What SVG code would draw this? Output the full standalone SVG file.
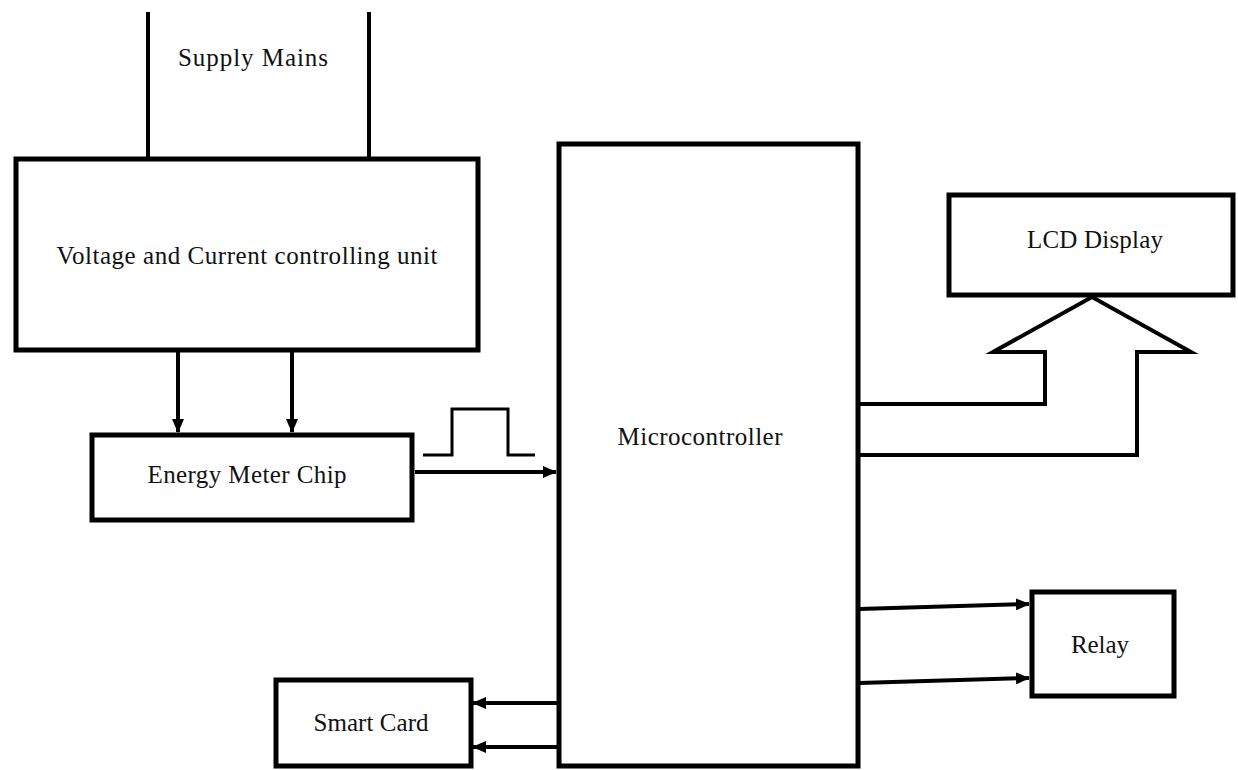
<svg xmlns="http://www.w3.org/2000/svg" width="1238" height="770" viewBox="0 0 1238 770">
<style>
.box{fill:#fff;stroke:#000;stroke-width:5}
.ln{fill:none;stroke:#000;stroke-width:4}
.thin{fill:none;stroke:#000;stroke-width:3}
.t{font-family:"Liberation Serif","Times New Roman",serif;font-size:25px;fill:#111;text-anchor:middle}
</style>
<defs>
<marker id="ah" markerWidth="14" markerHeight="12" refX="13" refY="6" orient="auto" markerUnits="userSpaceOnUse">
<path d="M0,0 L14,6 L0,12 Z" fill="#000"/>
</marker>
</defs>
<rect width="1238" height="770" fill="#fff"/>
<g id="connectors">
<line class="ln" x1="148" y1="12" x2="148" y2="157"/>
<line class="ln" x1="369" y1="12" x2="369" y2="157"/>
<line class="ln" x1="178" y1="352" x2="178" y2="432" marker-end="url(#ah)"/>
<line class="ln" x1="292" y1="352" x2="292" y2="432" marker-end="url(#ah)"/>
<polyline class="thin" points="423,455 452,455 452,409 508,409 508,455 535,455"/>
<line class="ln" x1="415" y1="472" x2="556" y2="472" marker-end="url(#ah)"/>
<path class="ln" d="M859,404 L1045,404 L1045,352 L993,352 L1092,297 L1191,352 L1137,352 L1137,455 L859,455" stroke-linejoin="miter"/>
<line class="ln" x1="859" y1="609" x2="1029" y2="604" marker-end="url(#ah)"/>
<line class="ln" x1="859" y1="683" x2="1029" y2="678" marker-end="url(#ah)"/>
<line class="ln" x1="557" y1="703" x2="473" y2="703" marker-end="url(#ah)"/>
<line class="ln" x1="557" y1="747" x2="473" y2="747" marker-end="url(#ah)"/>
</g>
<g id="supply-mains">
<text class="t" x="253" y="66" textLength="150" lengthAdjust="spacing">Supply Mains</text>
</g>
<g id="vc-unit">
<rect class="box" x="16" y="159" width="462" height="191"/>
<text class="t" x="247" y="264" textLength="381" lengthAdjust="spacing">Voltage and Current controlling unit</text>
</g>
<g id="energy-meter">
<rect class="box" x="92" y="435" width="320" height="85"/>
<text class="t" x="247" y="483" textLength="199" lengthAdjust="spacing">Energy Meter Chip</text>
</g>
<g id="microcontroller">
<rect class="box" x="559" y="144" width="299" height="622"/>
<text class="t" x="700" y="445" textLength="165" lengthAdjust="spacing">Microcontroller</text>
</g>
<g id="lcd">
<rect class="box" x="949" y="195" width="284" height="100"/>
<text class="t" x="1095" y="248" textLength="136" lengthAdjust="spacing">LCD Display</text>
</g>
<g id="relay">
<rect class="box" x="1032" y="592" width="142" height="104"/>
<text class="t" x="1100" y="653" textLength="58" lengthAdjust="spacing">Relay</text>
</g>
<g id="smart-card">
<rect class="box" x="276" y="680" width="195" height="86"/>
<text class="t" x="371" y="731" textLength="115" lengthAdjust="spacing">Smart Card</text>
</g>
</svg>
